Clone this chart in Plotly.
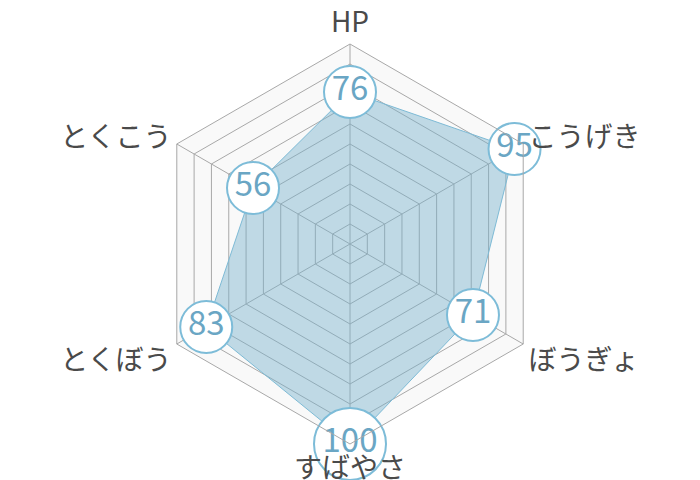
import plotly.graph_objects as go

# stats (clockwise from the top)
categories = ['HP', 'こうげき', 'ぼうぎょ', 'すばやさ', 'とくぼう', 'とくこう']
values = [76, 95, 71, 100, 83, 56]
labels = [str(v) for v in values]

# the max value gets a bigger bubble
sizes = [72 if v == max(values) else 52 for v in values]

fig = go.Figure()
fig.add_trace(go.Scatterpolar(
    r=values + values[:1],
    theta=categories + categories[:1],
    mode='lines',
    fill='toself',
    fillcolor='rgba(120,178,205,0.45)',
    line=dict(color='#7dbad5', width=1),
    hoverinfo='skip',
    showlegend=False
))
fig.add_trace(go.Scatterpolar(
    r=values,
    theta=categories,
    mode='markers+text',
    text=labels,
    textposition='middle center',
    textfont=dict(family='Noto Sans CJK JP', size=33, color='#6aa6c4'),
    marker=dict(size=sizes, color='white', line=dict(color='#7dbcd8', width=2), opacity=1),
    showlegend=False
))

fig.update_layout(
    width=700, height=480,
    margin=dict(l=140, r=156, t=36, b=44),
    paper_bgcolor='white',
    font=dict(family='Noto Sans CJK JP', color='#4a4a4a'),
    polar=dict(
        gridshape='linear',
        bgcolor='#f9f9f9',
        radialaxis=dict(range=[0, 100], dtick=10, showticklabels=False, ticks='',
                        showline=False, gridcolor='#a8a8a8', gridwidth=1),
        angularaxis=dict(direction='clockwise', rotation=90, ticks='',
                         showline=True, linecolor='#a8a8a8', linewidth=1,
                         gridcolor='#a8a8a8', tickfont=dict(size=28, color='#4a4a4a')),
    ),
)

fig.write_html('out.html')
